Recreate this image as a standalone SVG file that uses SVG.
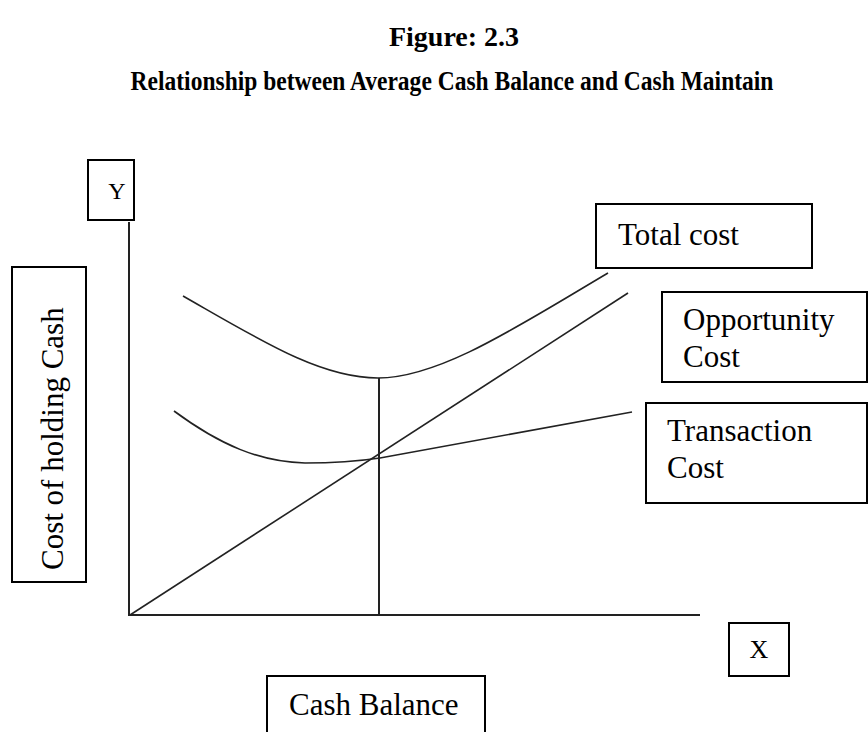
<svg xmlns="http://www.w3.org/2000/svg" width="868" height="732" viewBox="0 0 868 732">
<style>
.box{fill:#fff;stroke:#000;stroke-width:2}
.lbl{font-family:"Liberation Serif","Times New Roman",serif;font-size:31px;fill:#000}
.title{font-family:"Liberation Serif","Times New Roman",serif;font-weight:bold;font-size:28px;fill:#000;text-anchor:middle}
.curve{fill:none;stroke:#222;stroke-width:1.6}
.axis{fill:none;stroke:#222;stroke-width:2}
</style>
<rect width="868" height="732" fill="#fff"/>
<g id="title">
<text class="title" x="454" y="46">Figure: 2.3</text>
<text class="title" transform="translate(452,90) scale(0.84,1)" x="0" y="0">Relationship between Average Cash Balance and Cash Maintain</text>
</g>
<g id="connectors">
<path class="axis" d="M129,222 L129,615 L700,615"/>
<path class="curve" d="M183,296 C260,340 320,378 378,378 C440,378 520,325 608,273"/>
<path class="curve" d="M130,615 L628,293"/>
<path class="curve" d="M174,411 C220,445 260,462 305,463 C340,463 360,461 380,458 L632,412"/>
<path class="axis" d="M379,378 L379,615"/>
</g>
<g id="node-y"><rect class="box" x="88" y="160" width="46" height="60"/><text class="lbl" x="117" y="199" text-anchor="middle" style="font-size:24px">Y</text></g>
<g id="node-x"><rect class="box" x="729" y="623" width="60" height="53"/><text class="lbl" x="759" y="658" text-anchor="middle" style="font-size:26px">X</text></g>
<g id="node-total"><rect class="box" x="596" y="204" width="216" height="64"/><text class="lbl" x="618" y="245">Total cost</text></g>
<g id="node-opportunity"><rect class="box" x="662" y="292" width="205" height="90"/><text class="lbl" x="683" y="330">Opportunity</text><text class="lbl" x="683" y="367">Cost</text></g>
<g id="node-transaction"><rect class="box" x="646" y="403" width="221" height="100"/><text class="lbl" x="667" y="441">Transaction</text><text class="lbl" x="667" y="478">Cost</text></g>
<g id="node-ylabel"><rect class="box" x="12" y="267" width="74" height="315"/><text class="lbl" transform="translate(63,570) rotate(-90)">Cost of holding Cash</text></g>
<g id="node-xlabel"><rect class="box" x="267" y="676" width="218" height="60"/><text class="lbl" x="289" y="715">Cash Balance</text></g>
</svg>
